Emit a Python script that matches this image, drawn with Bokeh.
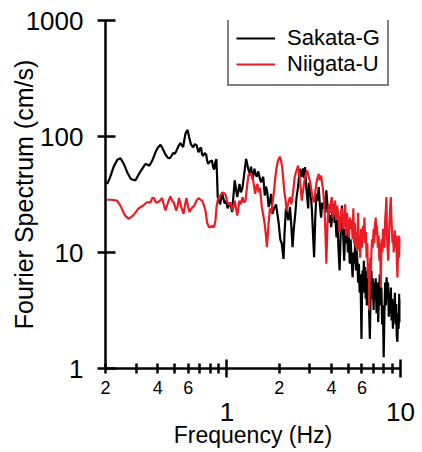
from bokeh.plotting import figure
from bokeh.models import LogAxis, FixedTicker, Range1d, Legend, LegendItem
from bokeh.embed import file_html
from bokeh.resources import INLINE

# Fourier amplitude spectra (cm/s) of two stations, frequency in Hz
sakata_freq = [
    0.2045, 0.212, 0.223, 0.234, 0.244, 0.255, 0.267, 0.280, 0.297, 0.318,
    0.340, 0.350, 0.358, 0.372, 0.388, 0.400, 0.415, 0.428, 0.443, 0.458,
    0.470, 0.480, 0.490, 0.500, 0.510, 0.525, 0.540, 0.550, 0.560, 0.570,
    0.578, 0.594, 0.605, 0.620, 0.630, 0.640, 0.655, 0.670, 0.686, 0.700,
    0.710, 0.720, 0.730, 0.745, 0.760, 0.770, 0.780, 0.800, 0.820, 0.835,
    0.845, 0.858, 0.870, 0.878, 0.886, 0.898, 0.915, 0.939, 0.955, 0.972,
    0.990, 1.010, 1.025, 1.045, 1.072, 1.090, 1.110, 1.130, 1.148, 1.165,
    1.182, 1.205, 1.230, 1.260, 1.291, 1.312, 1.335, 1.357, 1.378, 1.406,
    1.442, 1.465, 1.487, 1.518, 1.545, 1.572, 1.620, 1.654, 1.680, 1.710,
    1.740, 1.770, 1.800, 1.830, 1.870, 1.920, 1.950, 1.990, 2.030, 2.070,
    2.120, 2.150, 2.190, 2.230, 2.260, 2.310, 2.350, 2.390, 2.430, 2.480,
    2.520, 2.570, 2.630, 2.690, 2.740, 2.780, 2.820, 2.860, 2.900, 2.940,
    2.970, 3.010, 3.050, 3.090, 3.130, 3.180, 3.230, 3.280, 3.330, 3.380,
    3.430, 3.490, 3.540, 3.600, 3.650, 3.700, 3.740, 3.800, 3.850, 3.900,
    3.950, 3.990, 4.050, 4.120, 4.170, 4.220, 4.280, 4.330, 4.390, 4.460,
    4.520, 4.600, 4.670, 4.740, 4.800, 4.860, 4.920, 4.980, 5.040, 5.100,
    5.160, 5.220, 5.300, 5.360, 5.420, 5.480, 5.540, 5.600, 5.650, 5.700,
    5.760, 5.820, 5.880, 5.930, 5.960, 6.000, 6.050, 6.100, 6.150, 6.200,
    6.250, 6.300, 6.350, 6.400, 6.450, 6.500, 6.550, 6.600, 6.660, 6.720,
    6.800, 6.860, 6.920, 7.000, 7.060, 7.120, 7.200, 7.280, 7.360, 7.440,
    7.520, 7.600, 7.680, 7.760, 7.840, 7.920, 8.000, 8.080, 8.160, 8.240,
    8.320, 8.400, 8.480, 8.560, 8.640, 8.720, 8.800, 8.880, 8.960, 9.040,
    9.120, 9.200, 9.280, 9.360, 9.440, 9.520, 9.600, 9.680, 9.760, 9.840,
    9.920, 10.00,
]
sakata_amp = [
    39, 44, 55, 63, 65, 58, 49, 43, 41.8, 50,
    58, 57, 56, 62, 73, 80, 85, 78, 70, 65.5,
    65, 68, 72, 71, 74, 82, 88, 84, 81, 95,
    106, 114, 100, 86, 83, 81, 86, 84, 73, 79,
    80, 70, 68, 72, 70, 62, 58, 61, 62, 54,
    52, 60, 64, 45, 30, 28, 26, 33, 29, 26.5,
    28, 24, 25.4, 27, 22.3, 30, 41.8, 35, 30, 34,
    39, 33, 36, 48, 64, 57, 51, 48, 55, 43,
    52.7, 47, 45, 50, 44, 40.3, 45, 31, 37, 33,
    24.6, 28, 32, 21.5, 24, 26, 22, 17.7, 13, 12,
    8.8, 15, 24, 21, 19, 24.6, 17, 11.1, 16, 22,
    30, 36.6, 52.7, 45, 53, 44, 54.5, 38, 30, 24,
    40, 36.6, 30, 23, 15, 9.1, 20, 32, 28, 36.6,
    26, 20, 27, 24, 30, 22, 34.3, 25, 22, 18,
    21, 16.5, 22, 26.2, 18, 20, 13.5, 19, 11, 7,
    14, 25.4, 15, 8.5, 16, 12, 17, 10, 14, 8,
    13, 9, 6.1, 10, 8, 12, 7, 10.4, 8, 5.5,
    8, 4.5, 6.5, 3, 1.8, 4, 7, 5, 8.5, 4.5,
    7.5, 4, 6, 3.5, 7, 4.5, 6, 3, 1.8, 4,
    7, 4, 6, 3.2, 5.5, 3.9, 6, 3, 5.5, 2.5,
    4.5, 6.5, 3.5, 5, 2.4, 3.5, 1.25, 3, 5.5, 3.5,
    6.1, 4, 5.5, 2.8, 4.5, 3, 5, 2.6, 4, 2.2,
    3.8, 2.6, 4.5, 2.4, 3.6, 1.9, 1.7, 3, 2.2, 4.4,
    2.5, 4,
]

niigata_freq = [
    0.2045, 0.215, 0.233, 0.245, 0.258, 0.272, 0.290, 0.310, 0.330, 0.345,
    0.363, 0.372, 0.380, 0.390, 0.400, 0.412, 0.424, 0.433, 0.443, 0.458,
    0.473, 0.484, 0.495, 0.510, 0.520, 0.530, 0.545, 0.563, 0.575, 0.585,
    0.597, 0.610, 0.625, 0.650, 0.668, 0.686, 0.705, 0.720, 0.735, 0.753,
    0.770, 0.790, 0.805, 0.820, 0.835, 0.848, 0.860, 0.872, 0.885, 0.900,
    0.918, 0.947, 0.980, 1.000, 1.020, 1.050, 1.080, 1.110, 1.130, 1.148,
    1.165, 1.180, 1.205, 1.230, 1.255, 1.280, 1.310, 1.335, 1.357, 1.380,
    1.400, 1.420, 1.455, 1.480, 1.500, 1.525, 1.550, 1.570, 1.590, 1.620,
    1.650, 1.680, 1.700, 1.735, 1.770, 1.800, 1.830, 1.870, 1.900, 1.930,
    1.970, 2.020, 2.050, 2.080, 2.110, 2.140, 2.180, 2.210, 2.260, 2.310,
    2.350, 2.400, 2.460, 2.510, 2.570, 2.630, 2.670, 2.700, 2.760, 2.820,
    2.900, 2.950, 3.000, 3.050, 3.110, 3.170, 3.230, 3.280, 3.330, 3.380,
    3.430, 3.490, 3.550, 3.600, 3.650, 3.700, 3.740, 3.800, 3.860, 3.920,
    3.970, 4.020, 4.080, 4.150, 4.200, 4.260, 4.320, 4.390, 4.460, 4.530,
    4.600, 4.670, 4.740, 4.800, 4.860, 4.920, 4.990, 5.050, 5.120, 5.180,
    5.240, 5.300, 5.350, 5.400, 5.460, 5.530, 5.600, 5.650, 5.700, 5.750,
    5.800, 5.860, 5.920, 5.960, 6.020, 6.080, 6.140, 6.200, 6.260, 6.320,
    6.380, 6.440, 6.500, 6.560, 6.600, 6.650, 6.700, 6.760, 6.800, 6.860,
    6.920, 7.000, 7.060, 7.120, 7.200, 7.260, 7.320, 7.400, 7.480, 7.560,
    7.640, 7.700, 7.780, 7.860, 7.940, 8.000, 8.080, 8.160, 8.240, 8.300,
    8.360, 8.420, 8.500, 8.580, 8.640, 8.720, 8.800, 8.860, 8.920, 9.000,
    9.080, 9.140, 9.200, 9.280, 9.360, 9.440, 9.520, 9.600, 9.680, 9.760,
    9.840, 9.920, 10.00,
]
niigata_amp = [
    28.5, 28.5, 28, 25, 21, 19.5, 21, 24, 25.4, 27,
    27, 29.5, 29.5, 27, 27, 28, 29.5, 26, 23, 27,
    30.4, 28, 27, 23, 25, 29.5, 25, 21.5, 26, 29.5,
    25, 22.3, 24, 25.4, 28, 29.4, 28.5, 28, 26, 23,
    18, 16.5, 16.5, 17, 16.5, 17, 19, 24.6, 28, 30,
    31, 33, 32, 28, 26, 27, 23, 28, 24, 20.8,
    24, 28, 26, 30, 27, 28, 38, 47.6, 46, 48.5,
    44, 41, 32, 37, 39, 33, 36, 30, 24.6, 21,
    17.7, 14, 11.1, 17, 24, 22, 26, 34.3, 44, 53,
    62, 67, 62, 55, 44, 34, 28, 23, 27, 30,
    26, 32, 45, 50, 56, 44, 34, 28, 36, 45,
    51, 46, 42, 36.6, 30, 27, 33, 40, 44, 47.6,
    42, 46, 38, 32, 24, 14, 8, 18, 26, 22,
    27, 30, 20, 23, 28, 19, 25.4, 20, 15, 21,
    24, 16, 18, 26, 14, 22, 17, 13.5, 20, 16,
    19, 13, 24, 12, 18, 11, 15, 10.5, 22, 10.4,
    13, 9, 16, 14, 11, 17, 13, 20, 12, 15,
    9, 12, 6, 8, 3.2, 5.5, 9, 7, 10, 13,
    11, 16, 12, 17, 20, 14, 17, 11, 14, 8.5,
    12, 5, 13, 10, 16, 15, 11, 19, 24, 30,
    14, 11, 8.5, 13, 18, 24, 30, 20, 16, 12,
    14, 10, 13, 15.5, 11, 14, 9, 6.1, 10, 14,
    9, 13.5, 12,
]

# Axis ticks and their labels
x_big_ticks = [1, 10]
x_small_ticks = [0.2, 0.3, 0.4, 0.5, 0.6, 0.7, 0.8, 0.9,
                 2, 3, 4, 5, 6, 7, 8, 9]
x_minor_label_values = [0.2, 0.4, 0.6, 2, 4, 6]
x_minor_label_texts = ["2", "4", "6", "2", "4", "6"]
x_decade_values = [1, 10]
x_decade_texts = ["1", "10"]
y_tick_values = [1, 10, 100, 1000]
y_tick_texts = ["1", "10", "100", "1000"]

FONT = "Liberation Sans"
RED = "#ec1c24"

p = figure(width=422, height=452, x_axis_type="log", y_axis_type="log",
           x_range=Range1d(0.2, 10), y_range=Range1d(1, 1000),
           output_backend="svg", toolbar_location=None,
           min_border_left=105, min_border_right=22,
           min_border_top=20, min_border_bottom=84)
p.xgrid.visible = False
p.ygrid.visible = False
p.outline_line_color = None
p.background_fill_color = "white"
p.border_fill_color = "white"

r_sakata = p.line(sakata_freq, sakata_amp, line_color="black", line_width=2.2)
r_niigata = p.line(niigata_freq, niigata_amp, line_color=RED, line_width=2.2)

# Bottom axis line with long decade ticks and short ticks in between
xa = p.xaxis[0]
xa.ticker = FixedTicker(ticks=x_big_ticks, minor_ticks=x_small_ticks)
xa.axis_line_width = 2.5
xa.axis_line_color = "black"
xa.major_tick_line_width = 2.5
xa.minor_tick_line_width = 2.5
xa.major_tick_line_color = "black"
xa.minor_tick_line_color = "black"
xa.major_tick_in = 9
xa.major_tick_out = 9
xa.minor_tick_in = 5
xa.minor_tick_out = 5
xa.major_label_overrides = {v: "" for v in x_big_ticks}
xa.major_label_text_font_size = "0px"
xa.major_label_standoff = 0

# Small digits under the intermediate ticks
xb = LogAxis(ticker=FixedTicker(ticks=x_minor_label_values, minor_ticks=[]))
xb.major_label_overrides = dict(zip(x_minor_label_values, x_minor_label_texts))
xb.axis_line_color = None
xb.major_tick_line_color = None
xb.minor_tick_line_color = None
xb.major_tick_in = 0
xb.major_tick_out = 0
xb.minor_tick_in = 0
xb.minor_tick_out = 0
xb.major_label_standoff = 3
xb.major_label_text_font = FONT
xb.major_label_text_font_size = "18px"
xb.major_label_text_color = "black"
p.add_layout(xb, "below")

# Decade labels and the axis title
xc = LogAxis(ticker=FixedTicker(ticks=x_decade_values, minor_ticks=[]))
xc.major_label_overrides = dict(zip(x_decade_values, x_decade_texts))
xc.axis_line_color = None
xc.major_tick_line_color = None
xc.minor_tick_line_color = None
xc.major_tick_in = 0
xc.major_tick_out = 0
xc.minor_tick_in = 0
xc.minor_tick_out = 0
xc.major_label_standoff = 6
xc.major_label_text_font = FONT
xc.major_label_text_font_size = "26px"
xc.major_label_text_color = "black"
xc.axis_label = "Frequency (Hz)"
xc.axis_label_text_font = FONT
xc.axis_label_text_font_size = "23px"
xc.axis_label_text_font_style = "normal"
xc.axis_label_text_color = "black"
xc.axis_label_standoff = -2
p.add_layout(xc, "below")

ya = p.yaxis[0]
ya.ticker = FixedTicker(ticks=y_tick_values, minor_ticks=[])
ya.major_label_overrides = dict(zip(y_tick_values, y_tick_texts))
ya.axis_line_width = 2.5
ya.axis_line_color = "black"
ya.major_tick_line_width = 2.5
ya.major_tick_line_color = "black"
ya.major_tick_in = 10
ya.major_tick_out = 8
ya.minor_tick_in = 0
ya.minor_tick_out = 0
ya.major_label_standoff = 14
ya.major_label_text_font = FONT
ya.major_label_text_font_size = "26px"
ya.major_label_text_color = "black"
ya.axis_label = "Fourier Spectrum (cm/s)"
ya.axis_label_text_font = FONT
ya.axis_label_text_font_size = "25px"
ya.axis_label_text_font_style = "normal"
ya.axis_label_text_color = "black"
ya.axis_label_standoff = -15

legend = Legend(items=[LegendItem(label="Sakata-G", renderers=[r_sakata]),
                       LegendItem(label="Niigata-U", renderers=[r_niigata])],
                location=(122, 282))
legend.label_text_font = FONT
legend.label_text_font_size = "22px"
legend.label_text_color = "black"
legend.glyph_width = 39
legend.label_standoff = 12
legend.padding = 7
legend.spacing = 0
legend.border_line_color = "black"
legend.border_line_width = 2
legend.background_fill_alpha = 1
p.add_layout(legend)

open("out.html", "w").write(file_html(p, INLINE))
